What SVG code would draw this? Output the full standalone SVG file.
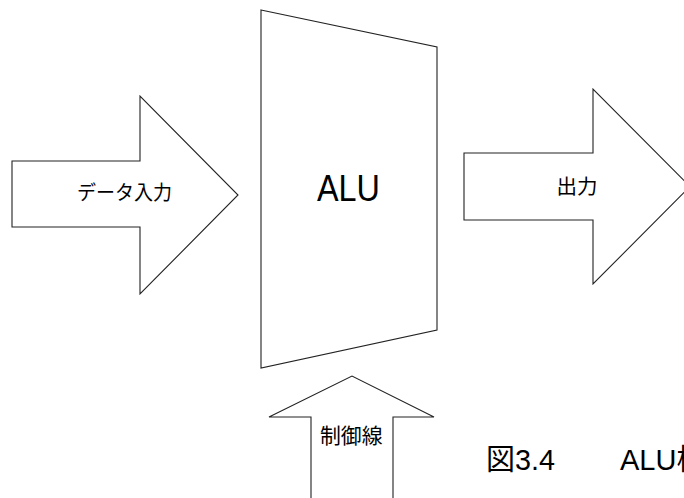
<svg xmlns="http://www.w3.org/2000/svg" width="684" height="498" viewBox="0 0 684 498">
<style>
.shape{fill:#fff;stroke:#222;stroke-width:1.1;stroke-linejoin:miter}
.jp{font-family:"Noto Sans CJK JP","Liberation Sans",sans-serif;fill:#000}
.lat{font-family:"Liberation Sans","Noto Sans CJK JP",sans-serif;fill:#000}
</style>
<rect width="684" height="498" fill="#fff"/>
<g id="connectors">
<g id="data-in">
<polygon class="shape" points="12,161 140,161 140,96 238,195 140,294 140,227 12,227"/>
<text class="jp" x="77" y="200" font-size="20" textLength="95" lengthAdjust="spacingAndGlyphs">データ入力</text>
</g>
<g id="output">
<polygon class="shape" points="464,153 593,153 593,89 690,186.5 593,284 593,220 464,220"/>
<text class="jp" x="556.5" y="194" font-size="20" textLength="41" lengthAdjust="spacingAndGlyphs">出力</text>
</g>
<g id="control">
<polygon class="shape" points="311,510 311,417 269,417 352,376 434,417 393,417 393,510"/>
<text class="jp" x="320" y="443" font-size="21" textLength="62.5" lengthAdjust="spacingAndGlyphs">制御線</text>
</g>
</g>
<g id="alu">
<polygon class="shape" points="261,10 437,47 437,330 261,368"/>
<text class="lat" x="317" y="200.5" font-size="37" textLength="63" lengthAdjust="spacingAndGlyphs">ALU</text>
</g>
<g id="caption">
<text class="jp" x="486" y="470" font-size="29">図</text>
<text class="lat" x="515" y="470" font-size="30" textLength="40" lengthAdjust="spacingAndGlyphs">3.4</text>
<text class="lat" x="620" y="470" font-size="29">ALU<tspan class="jp">構</tspan></text>
</g>
</svg>
